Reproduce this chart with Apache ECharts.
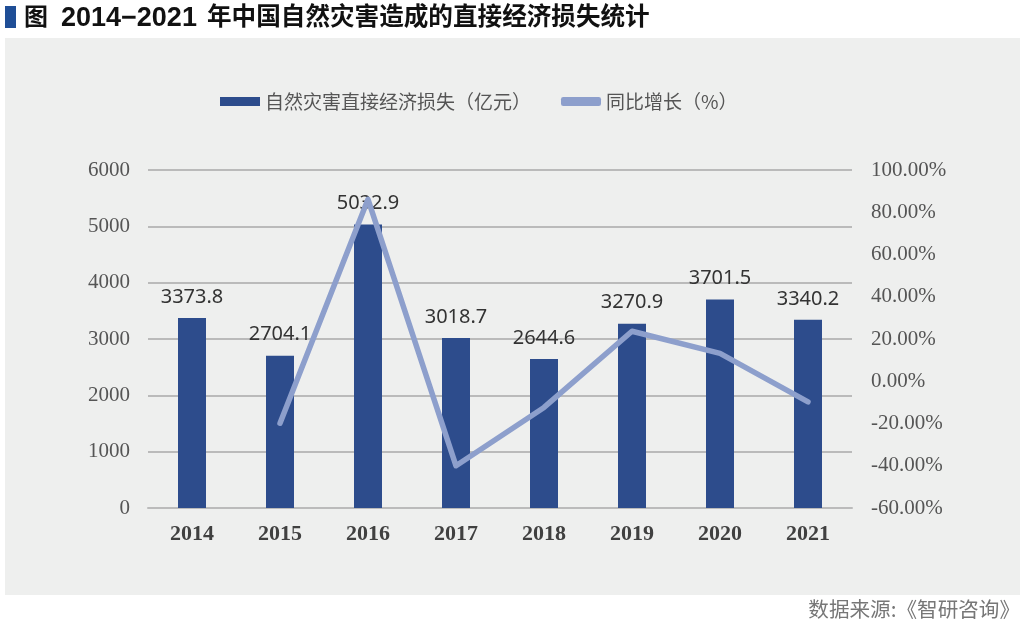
<!DOCTYPE html>
<html><head><meta charset="utf-8">
<script src="https://cdn.jsdelivr.net/npm/echarts@6/dist/echarts.min.js"></script>
<style>html,body{margin:0;padding:0;background:#fff}#c{width:1024px;height:631px}</style>
</head><body><div id="c"></div>
<script>
var years = ['2014','2015','2016','2017','2018','2019','2020','2021'];
var loss = [3373.8, 2704.1, 5032.9, 3018.7, 2644.6, 3270.9, 3701.5, 3340.2];
var growth = [null, -19.85, 86.12, -40.02, -12.39, 23.68, 13.17, -9.76];
var leftTicks = {min: 0, max: 6000, interval: 1000};
var rightTicks = {min: -60, max: 100, interval: 20};
var titleParts = ['图', '2014−2021', '年中国自然灾害造成的直接经济损失统计'];
var sourceText = '数据来源:《智研咨询》';
var seriesNames = ['自然灾害直接经济损失（亿元）', '同比增长（%）'];

var chart = echarts.init(document.getElementById('c'), null, {renderer: 'canvas'});
var cjk = '"Noto Sans CJK SC", "Noto Sans", sans-serif';
var serif = '"Liberation Serif", "DejaVu Serif", serif';
chart.setOption({
  backgroundColor: '#ffffff',
  animation: false,
  graphic: [
    {type: 'rect', left: 5, top: 38, shape: {width: 1015, height: 557}, style: {fill: '#eeefee'}, z: -10},
    {type: 'rect', left: 5, top: 6, shape: {width: 11, height: 22}, style: {fill: '#1f4e96'}},
    {type: 'text', left: 24, top: 4, style: {text: titleParts[0], fontSize: 24, fontWeight: 'bold', fontFamily: cjk, fill: '#111'}},
    {type: 'text', left: 61, top: 5, style: {text: titleParts[1], fontSize: 27, fontWeight: 'bold', fontFamily: '"Liberation Sans", Arial, sans-serif', fill: '#111'}},
    {type: 'text', left: 207, top: 3, style: {text: titleParts[2], fontSize: 24.6, fontWeight: 'bold', fontFamily: cjk, fill: '#111'}},
    {type: 'text', right: 4, top: 599, style: {text: sourceText, fontSize: 20.6, fontFamily: cjk, fill: '#777'}}
  ],
  legend: {
    top: 87, left: 215,
    itemWidth: 40, itemHeight: 9, itemGap: 30,
    textStyle: {fontFamily: cjk, fontSize: 19, color: '#555'},
    data: [{name: seriesNames[0], icon: 'rect'}, {name: seriesNames[1], icon: 'roundRect'}]
  },
  grid: {left: 148, right: 172, top: 170, bottom: 123, containLabel: false},
  xAxis: {
    type: 'category', data: years,
    axisLine: {lineStyle: {color: '#bbbbbb', width: 2}},
    axisTick: {show: false},
    axisLabel: {fontFamily: serif, fontWeight: 'bold', fontSize: 22, color: '#404040', margin: 15}
  },
  yAxis: [
    {type: 'value', min: leftTicks.min, max: leftTicks.max, interval: leftTicks.interval,
     axisLine: {show: false}, axisTick: {show: false},
     splitLine: {lineStyle: {color: '#a9a9a9', width: 1.5}},
     axisLabel: {fontFamily: serif, fontSize: 21, color: '#555', margin: 18,
                 formatter: function(v){ return String(v); }}},
    {type: 'value', min: rightTicks.min, max: rightTicks.max, interval: rightTicks.interval,
     axisLine: {show: false}, axisTick: {show: false}, splitLine: {show: false},
     axisLabel: {fontFamily: serif, fontSize: 21, color: '#555', margin: 19, align: 'left',
                 formatter: function(v){ return v.toFixed(2) + '%'; }}}
  ],
  series: [
    {name: seriesNames[0], type: 'bar', data: loss, barWidth: 28, yAxisIndex: 0,
     itemStyle: {color: '#2d4c8c'},
     label: {show: true, position: 'top', distance: 11, fontFamily: '"Noto Sans", sans-serif', fontSize: 20, color: '#333',
             formatter: function(p){ return p.value.toFixed(1); }}},
    {name: seriesNames[1], type: 'line', data: growth, yAxisIndex: 1, symbol: 'none', z: 5,
     lineStyle: {color: '#8d9fcc', width: 5.5, cap: 'round', join: 'round'},
     itemStyle: {color: '#8d9fcc'}}
  ]
});
</script></body></html>
